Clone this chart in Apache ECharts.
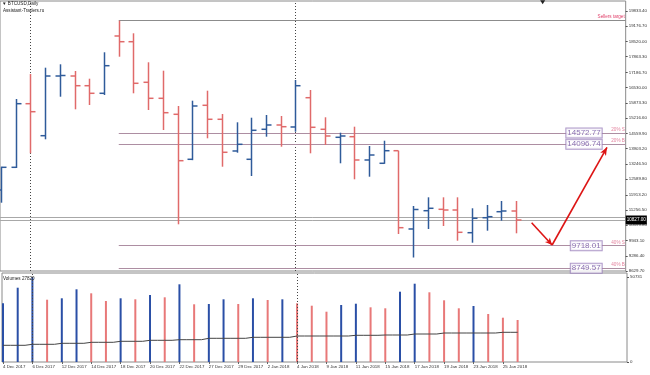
<!DOCTYPE html>
<html><head><meta charset="utf-8">
<script src="https://cdn.jsdelivr.net/npm/echarts@6/dist/echarts.min.js"></script>
<style>html,body{margin:0;padding:0;background:#fff}#c{width:650px;height:375px}</style>
</head><body><div id="c"></div>
<script>
// ---- data ----
const dateLabels = ['4 Dec 2017','6 Dec 2017','12 Dec 2017','14 Dec 2017','18 Dec 2017','20 Dec 2017','22 Dec 2017','27 Dec 2017','29 Dec 2017','2 Jan 2018','4 Jan 2018','9 Jan 2018','11 Jan 2018','15 Jan 2018','17 Jan 2018','19 Jan 2018','23 Jan 2018','25 Jan 2018'];
const opens  = [12120,13098,15839,14460,17032,17032,16614,16287,18756,18510,16761,16071,15382,13443,15770,15167,13801,13443,14736,14921,14835,16097,14736,14391,14417,13413,13271,13813,10440,11228,11288,11258,10280,10926,11185,11215];
const highs  = [13124,16041,17118,17390,17536,17248,16916,18054,19415,18872,17623,17261,15740,15968,16399,15395,15037,15235,15352,15309,16860,16429,15253,14589,14848,14016,14244,13813,11431,11805,11805,11805,11332,11474,11646,11646];
const lows   = [11573,13068,13701,14305,16140,15597,15783,16214,17864,16287,15567,14705,10642,13405,14348,13124,13727,12723,14417,13986,14632,13701,14059,13271,12581,12693,13249,10224,9211,10440,10569,9935,9849,10366,10797,10254];
const closes = [13098,15839,15494,17032,17054,16614,16287,17476,18510,16718,16071,15451,13383,15740,15167,13745,14089,14693,14921,14848,16614,14822,14447,14447,13413,13628,13813,10496,11280,11332,11258,10297,10901,10970,11215,10827];
const volumes = [35030,44340,50731,37180,38020,43390,41000,36400,38020,37420,39990,38610,46370,34440,34610,37420,34610,38020,37000,37420,35030,33600,30020,34020,34790,32640,32050,41960,46730,41600,36820,32050,33420,28650,26440,25070];
const volumeAvg = [9966,9966,10563,10563,11160,11160,11757,11757,12354,12354,12951,12951,13309,13309,14144,14144,14144,14741,14741,14741,15517,15517,15517,15517,15934,15934,16114,16114,16710,16710,17307,17307,17307,17307,17725,17725];
const priceTicks = [19833.40,19176.70,18520.00,17863.30,17186.70,16530.00,15873.30,15216.60,14559.90,13903.20,13246.50,12589.80,11913.20,11256.50,10599.80,9943.10,9286.40,8629.70];
const volumeTicks = [0, 50731];
const levels = [14572.77, 14096.74, 9718.01, 8749.57];
const levelTags = ['20% S','20% B','40% S','40% B'];
const sellersTarget = 19415;
const bidPrice = 10827, askPrice = 10926;
const bidLabel = '10827.00';
const separatorBars = [2, 20];
const arrowPath = [[36.05, 10711], [37.44, 9750], [41.17, 13960]];
const shiftMarker = [36.8, 20215];
const volumeTitle = 'Volumes 27820';

// ---- styling ----
const BULL = '#2f5b9a', BEAR = '#e06a6a';
const VUP = '#2a4fa6', VDOWN = '#e87878';
const FONT = 'Liberation Sans';
const xMin = -0.068, xMax = 42.44;
const levelStart = 8;

const chart = echarts.init(document.getElementById('c'), null, {renderer: 'canvas'});

function renderOHLC(params, api) {
  const i = api.value(0);
  const o = api.coord([i, api.value(1)]);
  const h = api.coord([i, api.value(2)]);
  const l = api.coord([i, api.value(3)]);
  const c = api.coord([i, api.value(4)]);
  const x = Math.round(o[0]) + 0.5;
  const color = api.value(4) >= api.value(1) ? BULL : BEAR;
  const style = {stroke: color, lineWidth: 1.5};
  return {type: 'group', children: [
    {type: 'line', shape: {x1: x, y1: h[1], x2: x, y2: l[1]}, style},
    {type: 'line', shape: {x1: x - 5, y1: o[1], x2: x, y2: o[1]}, style},
    {type: 'line', shape: {x1: x, y1: c[1], x2: x + 5, y2: c[1]}, style}
  ]};
}

const ohlcData = opens.map((o, i) => [i, o, highs[i], lows[i], closes[i]]);

const levelLines = levels.map(v => [
  {coord: [levelStart, v], symbol: 'none'},
  {coord: [xMax, v], symbol: 'none'}
]);

const arrowLines = [
  [{coord: arrowPath[0], symbol: 'none'}, {coord: arrowPath[1], symbol: 'arrow', symbolSize: [5, 7]}],
  [{coord: arrowPath[1], symbol: 'none'}, {coord: arrowPath[2], symbol: 'arrow', symbolSize: [5, 8]}]
];

const tickLabelStyle = {fontSize: 4.4, color: '#333', fontFamily: FONT};

const option = {
  animation: false,
  backgroundColor: '#ffffff',
  title: [
    {text: '\u25BC BTCUSD,Daily', left: 2, top: 1, padding: 0, textStyle: {fontSize: 4.6, fontWeight: 'normal', color: '#222', fontFamily: FONT}},
    {text: 'Assistant-Traders.ru', left: 3, top: 8, padding: 0, textStyle: {fontSize: 4.6, fontWeight: 'normal', color: '#222', fontFamily: FONT}},
    {text: volumeTitle, left: 3, top: 276, padding: 0, textStyle: {fontSize: 4.6, fontWeight: 'normal', color: '#222', fontFamily: FONT}}
  ],
  grid: [
    {left: 0, top: 1, width: 627, height: 270, show: true, borderColor: '#8a8a8a', borderWidth: 1, backgroundColor: '#fff'},
    {left: 0, top: 273, width: 627, height: 89, show: true, borderColor: '#8a8a8a', borderWidth: 1, backgroundColor: '#fff'}
  ],
  xAxis: [
    {type: 'value', gridIndex: 0, min: xMin, max: xMax, show: false},
    {type: 'value', gridIndex: 1, min: xMin, max: xMax, position: 'bottom',
      splitLine: {show: false},
      axisLine: {show: false, onZero: false},
      axisTick: {show: true, length: 2, lineStyle: {color: '#666'}, customValues: dateLabels.map((d, k) => 2 * k)},
      axisLabel: {show: true, ...tickLabelStyle, align: 'left', margin: 3,
        customValues: dateLabels.map((d, k) => 2 * k),
        formatter: v => dateLabels[Math.round(v / 2)] || ''}
    }
  ],
  yAxis: [
    {type: 'value', gridIndex: 0, position: 'right', min: 8629.7, max: 8629.7 + 270 * 43.09,
      splitLine: {show: false},
      axisLine: {show: false, onZero: false},
      axisTick: {show: true, length: 2, lineStyle: {color: '#555'}, customValues: priceTicks},
      axisLabel: {show: true, ...tickLabelStyle, margin: 3, customValues: priceTicks,
        formatter: v => v.toFixed(2)}
    },
    {type: 'value', gridIndex: 1, position: 'right', min: 0, max: 53118,
      splitLine: {show: false},
      axisLine: {show: false, onZero: false},
      axisTick: {show: true, length: 2, lineStyle: {color: '#555'}, customValues: volumeTicks},
      axisLabel: {show: true, ...tickLabelStyle, margin: 3, customValues: volumeTicks,
        formatter: v => String(v)}
    }
  ],
  series: [
    {
      name: 'BTCUSD', type: 'custom', xAxisIndex: 0, yAxisIndex: 0,
      renderItem: renderOHLC, data: ohlcData, clip: true,
      encode: {x: 0, y: [1, 2, 3, 4]},
      z: 5,
      markPoint: {
        silent: true, animation: false,
        data: [{coord: shiftMarker, symbol: 'triangle', symbolRotate: 180, symbolSize: [5, 4], itemStyle: {color: '#222'}, label: {show: false}}]
      },
      markLine: {
        silent: true, animation: false, symbol: ['none', 'none'],
        data: [
          ...separatorBars.map(b => ({xAxis: b, lineStyle: {type: [1, 2], color: '#444', width: 1}, label: {show: false}})),
          [{coord: [levelStart, sellersTarget], symbol: 'none',
            lineStyle: {color: '#8c8c8c', width: 1, type: 'solid'},
            label: {show: true, position: 'insideEndTop', distance: 1, formatter: 'Sellers target', fontSize: 4.6, color: '#e0406a', fontFamily: FONT}},
           {coord: [xMax, sellersTarget], symbol: 'none'}],
          ...levelLines.map(p => [Object.assign({}, p[0], {lineStyle: {color: '#ad8ea2', width: 1, type: 'solid'}, label: {show: false}}), p[1]]),
          {yAxis: askPrice, lineStyle: {color: '#a8a8a8', width: 1, type: 'solid'}, label: {show: false}},
          {yAxis: bidPrice, lineStyle: {color: '#a8a8a8', width: 1, type: 'solid'},
            label: {show: true, position: 'end', distance: 0, formatter: bidLabel, fontSize: 4.6, color: '#fff', backgroundColor: '#000', padding: [2, 1, 2, 1], fontFamily: FONT}},
          ...arrowLines.map(p => [Object.assign({}, p[0], {lineStyle: {color: '#dd1515', width: 1.6, type: 'solid'}, label: {show: false}}), p[1]])
        ]
      }
    },
    {
      name: 'levelBoxes', type: 'scatter', xAxisIndex: 0, yAxisIndex: 0,
      symbolSize: 0, silent: true, z: 6,
      data: levels.map(v => [40.81, v]),
      label: {show: true, position: 'left', distance: 0,
        formatter: p => p.value[1].toFixed(2),
        fontSize: 8, color: '#6a4a9c', fontFamily: FONT,
        backgroundColor: '#fff', borderColor: '#9a80bb', borderWidth: 1, padding: [0, 1, 0, 1], lineHeight: 9}
    },
    {
      name: 'levelTags', type: 'scatter', xAxisIndex: 0, yAxisIndex: 0,
      symbolSize: 0, silent: true, z: 6,
      data: levels.map(v => [42.38, v]),
      label: {show: true, position: 'left', distance: 0, offset: [0, -3],
        formatter: p => levelTags[p.dataIndex],
        fontSize: 4.6, color: '#dc5f82', fontFamily: FONT}
    },
    {
      name: 'Volumes', type: 'bar', xAxisIndex: 1, yAxisIndex: 1,
      barWidth: 2,
      data: volumes.map((v, i) => ({value: [i, v], itemStyle: {color: (i > 0 && v < volumes[i - 1]) ? VDOWN : VUP}})),
      markLine: {
        silent: true, animation: false, symbol: ['none', 'none'],
        data: separatorBars.map(b => ({xAxis: b, lineStyle: {type: [1, 2], color: '#444', width: 1}, label: {show: false}}))
      }
    },
    {
      name: 'VolumeMA', type: 'line', xAxisIndex: 1, yAxisIndex: 1,
      data: volumeAvg.map((v, i) => [i, v]), step: 'middle',
      symbol: 'none', lineStyle: {color: '#444', width: 1}, z: 4
    }
  ]
};
chart.setOption(option);
</script>
</body></html>
